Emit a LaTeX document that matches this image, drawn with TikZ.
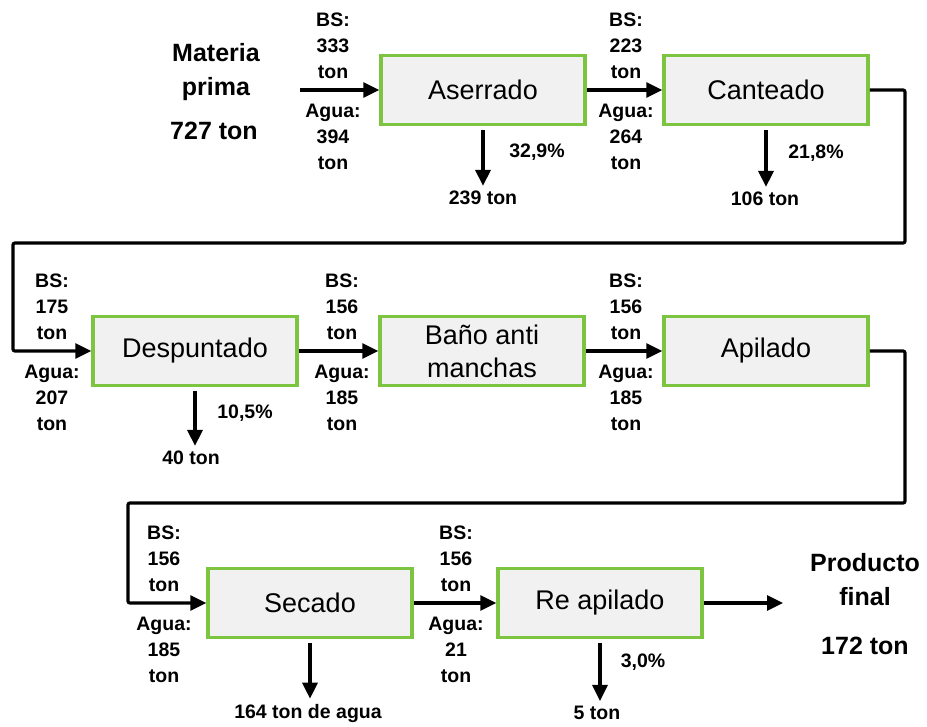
\documentclass[tikz,border=0pt]{standalone}
\usepackage{fontspec}
\setmainfont{Liberation Sans}
\usetikzlibrary{arrows.meta}
\definecolor{procgreen}{RGB}{125,196,64}
\definecolor{procfill}{RGB}{241,241,241}
\begin{document}
\begin{tikzpicture}[x=1pt, y=-1pt,
  proc/.style={draw=procgreen, line width=3.5pt, fill=procfill, minimum width=204pt,
    minimum height=69pt, inner sep=0pt, align=center, font=\fontsize{27}{33}\selectfont},
  lbl/.style={align=center, inner sep=0pt, font=\bfseries\fontsize{19.5}{26}\selectfont},
  big/.style={align=center, inner sep=0pt, font=\bfseries\fontsize{25}{34}\selectfont},
  flow/.style={line width=3.2pt, rounded corners=2pt, -{Triangle[length=16pt, width=15pt]}},
  drop/.style={flow, shorten <=4pt, shorten >=5pt}]
  \useasboundingbox (0,0) rectangle (927,727);
  \node[big] (mp) at (216,72) {Materia\\prima};
  \node[big] (mpq) at (214,131) {727 ton};
  \node[big] (pf) at (865,580) {Producto\\final};
  \node[big] (pfq) at (865,646) {172 ton};
  \node[proc] (ase) at (483,90) {Aserrado};
  \node[proc] (can) at (766,90) {Canteado};
  \node[proc] (des) at (195,351) {Despuntado};
  \node[proc] (ban) at (482,351) {Baño anti\\manchas};
  \node[proc] (api) at (766,351) {Apilado};
  \node[proc] (sec) at (310,603) {Secado};
  \node[proc] (rea) at (600,603) {Re apilado};
  \coordinate (in) at (300,90);
  \coordinate (out) at (783,603);
  \node[lbl] (bs1) at (333,46) {BS:\\333\\ton};
  \node[lbl] (ag1) at (333,137) {Agua:\\394\\ton};
  \node[lbl] (bs2) at (626,46) {BS:\\223\\ton};
  \node[lbl] (ag2) at (626,137) {Agua:\\264\\ton};
  \node[lbl] (bs3) at (52,307) {BS:\\175\\ton};
  \node[lbl] (ag3) at (52,398) {Agua:\\207\\ton};
  \node[lbl] (bs4) at (342,307) {BS:\\156\\ton};
  \node[lbl] (ag4) at (342,398) {Agua:\\185\\ton};
  \node[lbl] (bs5) at (626,307) {BS:\\156\\ton};
  \node[lbl] (ag5) at (626,398) {Agua:\\185\\ton};
  \node[lbl] (bs6) at (164,559) {BS:\\156\\ton};
  \node[lbl] (ag6) at (164,650) {Agua:\\185\\ton};
  \node[lbl] (bs7) at (456,559) {BS:\\156\\ton};
  \node[lbl] (ag7) at (456,650) {Agua:\\21\\ton};
  \node[lbl] (aseo) at (483,198) {239 ton};
  \node[lbl] (asep) at (537,152) {32,9\%};
  \node[lbl] (cano) at (765,199) {106 ton};
  \node[lbl] (canp) at (816,153) {21,8\%};
  \node[lbl] (deso) at (191,458) {40 ton};
  \node[lbl] (desp) at (245,413) {10,5\%};
  \node[lbl] (seco) at (308,713) {164 ton de agua};
  \node[lbl] (reao) at (597,713) {5 ton};
  \node[lbl] (reap) at (643,662) {3,0\%};
  \draw[flow] (in) -- (ase);
  \draw[flow] (ase) -- (can);
  \draw[flow] (can.east) -| (905,243) -| (13,351) -- (des.west);
  \draw[flow] (des) -- (ban);
  \draw[flow] (ban) -- (api);
  \draw[flow] (api.east) -| (905,503) -| (128,603) -- (sec.west);
  \draw[flow] (sec) -- (rea);
  \draw[flow] (rea) -- (out);
  \draw[drop] (ase.south) -- (ase.south |- aseo.north);
  \draw[drop] (can.south) -- (can.south |- cano.north);
  \draw[drop] (des.south) -- (des.south |- deso.north);
  \draw[drop] (sec.south) -- (sec.south |- seco.north);
  \draw[drop] (rea.south) -- (rea.south |- reao.north);
\end{tikzpicture}
\end{document}
